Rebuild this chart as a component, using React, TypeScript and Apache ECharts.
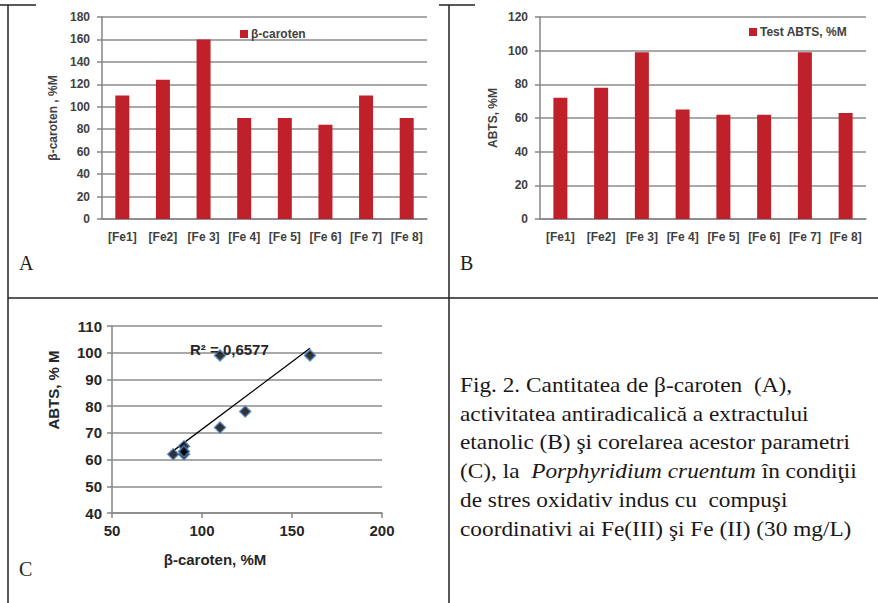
import React, { useEffect, useRef } from "react";
import * as echarts from "echarts";

// ---- data ----
const categories = ["[Fe1]", "[Fe2]", "[Fe 3]", "[Fe 4]", "[Fe 5]", "[Fe 6]", "[Fe 7]", "[Fe 8]"];
const betaCaroten = [110, 124, 160, 90, 90, 84, 110, 90];
const abts = [72, 78, 99, 65, 62, 62, 99, 63];
const yTicksA = { min: 0, max: 180, interval: 20 };
const yTicksB = { min: 0, max: 120, interval: 20 };
const xTicksC = { min: 50, max: 200, interval: 50 };
const yTicksC = { min: 40, max: 110, interval: 10 };
const captionLines = [
  "Fig. 2. Cantitatea de β-caroten  (A),",
  "activitatea antiradicalică a extractului",
  "etanolic (B) şi corelarea acestor parametri",
  "(C), la  {i|Porphyridium cruentum} în condiţii",
  "de stres oxidativ indus cu  compuşi",
  "coordinativi ai Fe(III) şi Fe (II) (30 mg/L)",
];

// linear regression for trendline
function regression(xs: number[], ys: number[]) {
  const n = xs.length;
  const mx = xs.reduce((a, b) => a + b, 0) / n;
  const my = ys.reduce((a, b) => a + b, 0) / n;
  let sxy = 0, sxx = 0, syy = 0;
  for (let i = 0; i < n; i++) {
    sxy += (xs[i] - mx) * (ys[i] - my);
    sxx += (xs[i] - mx) ** 2;
    syy += (ys[i] - my) ** 2;
  }
  const slope = sxy / sxx;
  const intercept = my - slope * mx;
  const r2 = (sxy * sxy) / (sxx * syy);
  return { slope, intercept, r2 };
}

const SANS = '"Liberation Sans", Arial, sans-serif';
const SERIF = '"Liberation Serif", "Times New Roman", serif';
const GRID_COLOR = "#8c8c8c";
const AXIS_COLOR = "#868686";
const BAR_COLOR = "#C0202A";
const TXT_AB = "#404040";
const TXT_C = "#262626";

export default function App() {
  const ref = useRef<HTMLDivElement>(null);

  useEffect(() => {
    if (!ref.current) return;
    const chart = echarts.init(ref.current, undefined, { renderer: "svg" });

    const reg = regression(betaCaroten, abts);
    const xMin = Math.min(...betaCaroten);
    const xMax = Math.max(...betaCaroten);
    const trend = [
      [xMin, reg.intercept + reg.slope * xMin],
      [xMax, reg.intercept + reg.slope * xMax],
    ];
    const r2Text = "R² = " + reg.r2.toFixed(4).replace(".", ",");
    const scatterData = betaCaroten.map((b, i) => [b, abts[i]]);

    const labAB = { fontFamily: SANS, fontSize: 12, fontWeight: "bold" as const, color: TXT_AB };
    const labC = { fontFamily: SANS, fontSize: 15, fontWeight: "bold" as const, color: TXT_C };

    const catAxis = (gridIndex: number) => ({
      gridIndex,
      type: "category" as const,
      data: categories,
      axisTick: { show: false },
      axisLine: { show: true, lineStyle: { color: AXIS_COLOR, width: 1.5 } },
      axisLabel: { ...labAB, margin: 12, interval: 0 },
      splitLine: { show: false },
    });
    const valAxis = (gridIndex: number, t: { min: number; max: number; interval: number }, lab: any, margin: number) => ({
      gridIndex,
      type: "value" as const,
      min: t.min,
      max: t.max,
      interval: t.interval,
      axisLine: { show: true, onZero: false, lineStyle: { color: AXIS_COLOR, width: 1.5 } },
      axisTick: { show: true, length: 5, lineStyle: { color: AXIS_COLOR, width: 1.5 } },
      axisLabel: { ...lab, margin },
      splitLine: { show: true, lineStyle: { color: GRID_COLOR, width: 1.5 } },
    });

    const line = (x1: number, y1: number, x2: number, y2: number) => ({
      type: "line",
      shape: { x1, y1, x2, y2 },
      style: { stroke: "#222", lineWidth: 1.5 },
      silent: true,
    });

    const rotText = (text: string, x: number, y: number, font: string, color: string) => ({
      type: "text",
      x,
      y,
      rotation: Math.PI / 2,
      style: { text, font, fill: color, align: "center", verticalAlign: "middle" },
      silent: true,
    });

    const panelLetter = (text: string, x: number, y: number) => ({
      type: "text",
      x,
      y,
      style: { text, font: `20px ${SERIF}`, fill: "#231f20", align: "left", verticalAlign: "middle" },
      silent: true,
    });

    const captionGraphics = captionLines.map((t, i) => ({
      type: "text",
      x: 460,
      y: 385 + i * 28.7,
      scaleX: 1.11,
      style: {
        text: t,
        font: `21px ${SERIF}`,
        fill: "#1a1718",
        align: "left",
        verticalAlign: "middle",
        rich: {
          i: { fontFamily: SERIF, fontSize: 21, fontStyle: "italic", fill: "#1a1718" },
        },
      },
      silent: true,
    }));

    chart.setOption({
      animation: false,
      backgroundColor: "#ffffff",
      grid: [
        { left: 102, top: 17, width: 325, height: 202 },
        { left: 540, top: 17, width: 326, height: 202 },
        { left: 112, top: 326, width: 270, height: 187 },
      ],
      legend: [
        {
          data: ["β-caroten"],
          left: 240,
          top: 28,
          padding: 0,
          itemWidth: 8,
          itemHeight: 8,
          icon: "rect",
          textStyle: { ...labAB, padding: [0, 0, 0, -2] },
        },
        {
          data: ["Test ABTS, %M"],
          left: 749,
          top: 26,
          padding: 0,
          itemWidth: 8,
          itemHeight: 8,
          icon: "rect",
          textStyle: { ...labAB, padding: [0, 0, 0, -2] },
        },
      ],
      xAxis: [
        catAxis(0),
        catAxis(1),
        {
          gridIndex: 2,
          type: "value",
          min: xTicksC.min,
          max: xTicksC.max,
          interval: xTicksC.interval,
          axisLine: { show: true, onZero: false, lineStyle: { color: AXIS_COLOR, width: 1.5 } },
          axisTick: { show: true, length: 5, lineStyle: { color: AXIS_COLOR, width: 1.5 } },
          axisLabel: { ...labC, margin: 10 },
          splitLine: { show: false },
        },
      ],
      yAxis: [valAxis(0, yTicksA, labAB, 12), valAxis(1, yTicksB, labAB, 12), valAxis(2, yTicksC, labC, 10)],
      series: [
        {
          name: "β-caroten",
          type: "bar",
          xAxisIndex: 0,
          yAxisIndex: 0,
          data: betaCaroten,
          barWidth: 14,
          itemStyle: { color: BAR_COLOR },
        },
        {
          name: "Test ABTS, %M",
          type: "bar",
          xAxisIndex: 1,
          yAxisIndex: 1,
          data: abts,
          barWidth: 14,
          itemStyle: { color: BAR_COLOR },
        },
        {
          name: "trend",
          type: "line",
          xAxisIndex: 2,
          yAxisIndex: 2,
          data: trend,
          symbol: "none",
          lineStyle: { color: "#000", width: 1.3 },
          z: 3,
        },
        {
          name: "ABTS vs β-caroten",
          type: "scatter",
          xAxisIndex: 2,
          yAxisIndex: 2,
          data: scatterData,
          symbol: "diamond",
          symbolSize: 11,
          itemStyle: { color: "#000", borderColor: "#4a7ebb", borderWidth: 1.5 },
          z: 4,
        },
      ],
      graphic: [
        // table borders
        line(0, 5, 36, 5),
        line(8, 5, 8, 603),
        line(439, 5, 475, 5),
        line(449, 5, 449, 603),
        line(8, 298, 878, 298),
        // axis titles
        rotText("β-caroten , %M", 53, 118, `bold 12px ${SANS}`, TXT_AB),
        rotText("ABTS, %M", 493, 118, `bold 12px ${SANS}`, TXT_AB),
        rotText("ABTS, % M", 53, 390, `bold 15px ${SANS}`, TXT_C),
        {
          type: "text",
          x: 215,
          y: 559,
          style: { text: "β-caroten, %M", font: `bold 15px ${SANS}`, fill: TXT_C, align: "center", verticalAlign: "middle" },
          silent: true,
        },
        {
          type: "text",
          x: 190,
          y: 349,
          z: 10,
          style: { text: r2Text, font: `bold 15px ${SANS}`, fill: TXT_C, align: "left", verticalAlign: "middle" },
          silent: true,
        },
        panelLetter("A", 19, 263),
        panelLetter("B", 460, 263),
        panelLetter("C", 19, 569),
        ...captionGraphics,
      ],
    });

    return () => chart.dispose();
  }, []);

  return (
    <div
      ref={ref}
      style={{ position: "fixed", left: 0, top: 0, width: 878, height: 603, background: "#fff" }}
    />
  );
}
